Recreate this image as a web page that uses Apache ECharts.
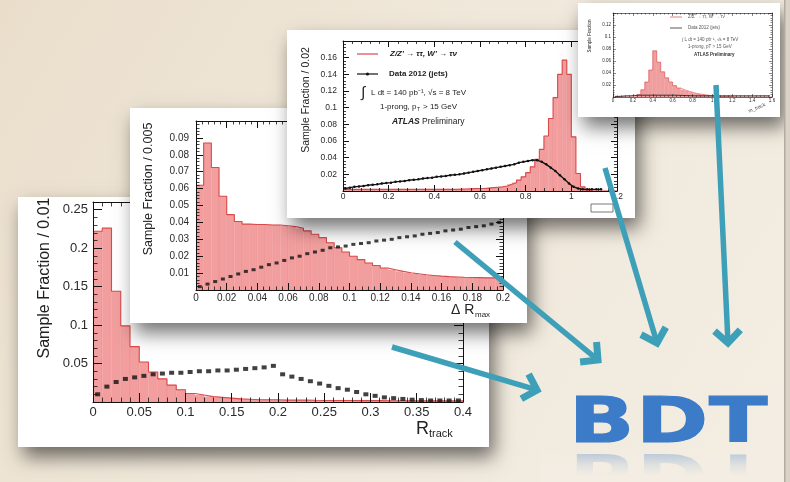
<!DOCTYPE html>
<html>
<head>
<meta charset="utf-8">
<script src="https://cdn.jsdelivr.net/npm/echarts@6/dist/echarts.min.js"></script>
<style>
  html, body { margin: 0; padding: 0; background: #f0e8da; }
  #chart { width: 790px; height: 482px; }
</style>
</head>
<body>
<div id="chart"></div>
<script>
// ---------- R_track panel (bins of 0.01 from 0 to 0.4) ----------
const rtrackLo = 0, rtrackBin = 0.01;
const rtrackSignal = [0.222, 0.226, 0.144, 0.099, 0.072, 0.052, 0.039, 0.030, 0.022, 0.016,
                      0.011, 0.009, 0.007, 0.006, 0.005, 0.004, 0.0035, 0.003, 0.003, 0.003,
                      0.0025, 0.0025, 0.0025, 0.0022, 0.002, 0.002, 0.002, 0.002, 0.0018, 0.0018,
                      0.0018, 0.0016, 0.0016, 0.0015, 0.0015, 0.0015, 0.0014, 0.0014, 0.0014, 0.0014];
const rtrackJets = [0.010, 0.020, 0.026, 0.030, 0.032, 0.034, 0.036, 0.037, 0.038, 0.038,
                    0.039, 0.040, 0.040, 0.041, 0.041, 0.042, 0.043, 0.044, 0.045, 0.047,
                    0.036, 0.033, 0.030, 0.027, 0.024, 0.021, 0.018, 0.016, 0.013, 0.010,
                    0.008, 0.006, 0.005, 0.004, 0.003, 0.0025, 0.002, 0.002, 0.002, 0.002];

// ---------- ΔR_max panel (bins of 0.005 from 0 to 0.2) ----------
const drmaxLo = 0, drmaxBin = 0.005;
const drmaxSignal = [0.062, 0.087, 0.0725, 0.0555, 0.0446, 0.0405, 0.039, 0.0388, 0.0388, 0.0385,
                     0.0385, 0.038, 0.0375, 0.0365, 0.035, 0.033, 0.031, 0.028, 0.025, 0.0225,
                     0.020, 0.018, 0.016, 0.0145, 0.013, 0.012, 0.011, 0.0102, 0.0096, 0.009,
                     0.0086, 0.0082, 0.0079, 0.0077, 0.0075, 0.0074, 0.0073, 0.0072, 0.0072, 0.0071];
const drmaxJets = [0.002, 0.0035, 0.005, 0.0065, 0.008, 0.0095, 0.011, 0.012, 0.0135, 0.015,
                   0.016, 0.0175, 0.019, 0.020, 0.0215, 0.0225, 0.0235, 0.025, 0.0255, 0.026,
                   0.027, 0.0275, 0.028, 0.029, 0.0295, 0.030, 0.031, 0.0315, 0.032, 0.033,
                   0.0335, 0.034, 0.035, 0.0355, 0.036, 0.037, 0.0375, 0.038, 0.039, 0.040];

// ---------- BDT-like score panel (bins of 0.02 from 0 to 1.2) ----------
const scoreLo = 0, scoreBin = 0.02;
const scoreSignal = [0.002, 0.002, 0.002, 0.002, 0.002, 0.002, 0.002, 0.002, 0.002, 0.002,
                     0.002, 0.002, 0.002, 0.002, 0.002, 0.002, 0.002, 0.002, 0.002, 0.002,
                     0.002, 0.002, 0.002, 0.002, 0.002, 0.0022, 0.0024, 0.0026, 0.0028, 0.003,
                     0.003, 0.0035, 0.004, 0.0045, 0.005, 0.006, 0.008, 0.010, 0.013, 0.017,
                     0.022, 0.029, 0.038, 0.050, 0.066, 0.087, 0.112, 0.140, 0.157, 0.140,
                     0.065, 0.021, 0.005, 0.001, 0, 0, 0, 0, 0, 0];
const scoreJets = [0.003, 0.004, 0.005, 0.0055, 0.006, 0.007, 0.0075, 0.008, 0.009, 0.0095,
                   0.010, 0.011, 0.0115, 0.012, 0.013, 0.0135, 0.014, 0.015, 0.0155, 0.016,
                   0.017, 0.0175, 0.018, 0.019, 0.0195, 0.020, 0.021, 0.022, 0.023, 0.024,
                   0.025, 0.026, 0.027, 0.028, 0.029, 0.030, 0.031, 0.032, 0.034, 0.035,
                   0.036, 0.037, 0.037, 0.035, 0.032, 0.028, 0.024, 0.019, 0.014, 0.009,
                   0.005, 0.003, 0.002, 0.002, 0.002, 0.002, 0.002, null, null, null];

// ---------- small mass panel (bins of 0.04 from 0 to 1.6) ----------
const massLo = 0, massBin = 0.04;
const massSignal = [0, 0, 0, 0, 0, 0, 0.004, 0.012, 0.025, 0.045,
                    0.077, 0.058, 0.042, 0.032, 0.025, 0.019, 0.015, 0.012, 0.010, 0.008,
                    0.006, 0.005, 0.004, 0.003, 0.002, 0.002, 0.001, 0.001, 0.001, 0.001,
                    0, 0, 0, 0, 0, 0, 0, 0, 0, 0];
const massJets = [0.001, 0.001, 0.0015, 0.002, 0.002, 0.0025, 0.003, 0.003, 0.003, 0.003,
                  0.003, 0.003, 0.003, 0.003, 0.003, 0.003, 0.0028, 0.0026, 0.0024, 0.0022,
                  0.002, 0.002, 0.002, 0.002, 0.002, 0.002, 0.002, 0.002, 0.002, 0.002,
                  0.002, 0.002, 0.002, 0.002, 0.002, 0.002, 0.002, 0.002, 0.002, 0.002];

// ---------- axis ranges / tick labels ----------
const axesSpec = [
  { x: [0, 0.4, 0.05],  y: [0, 0.26, 0.05], font: 13,  xMargin: 4, yMargin: 5, tick: 9 },
  { x: [0, 0.2, 0.02],  y: [0, 0.1, 0.01],  font: 10,  xMargin: 3, yMargin: 7, tick: 7 },
  { x: [0, 1.2, 0.2],   y: [0, 0.18, 0.02], font: 8.5, xMargin: 1, yMargin: 6, tick: 6 },
  { x: [0, 1.6, 0.2],   y: [0, 0.14, 0.02], font: 4.5, xMargin: 1, yMargin: 2, tick: 3 }
];
const gridBoxes = [
  { left: 93,  top: 202, width: 370, height: 200 },
  { left: 196, top: 121, width: 307, height: 169 },
  { left: 343, top: 41,  width: 274, height: 150 },
  { left: 613, top: 13,  width: 159, height: 84 }
];

const SIG_FILL = '#f29e9e';
const SIG_LINE = '#d94a4a';
const TEAL = '#3d9fb8';
const BG_LOW = '#f3ede3';
const FONT = 'Liberation Sans, Arial, sans-serif';

function binRanges(lo, w, vals) {
  return vals.map((v, i) => [lo + i * w, lo + (i + 1) * w, v]);
}
function stepOutline(lo, w, vals) {
  const pts = vals.map((v, i) => [lo + i * w, v]);
  pts.push([lo + vals.length * w, vals[vals.length - 1]]);
  return pts;
}
function binCentres(lo, w, vals) {
  return vals.map((v, i) => [lo + (i + 0.5) * w, v]);
}

function histSeries(p, lo, w, vals) {
  return [{
    type: 'custom', xAxisIndex: 2 * p, yAxisIndex: 2 * p, z: 10 * p + 3, silent: true,
    encode: { x: [0, 1], y: 2 },
    data: binRanges(lo, w, vals),
    renderItem(params, api) {
      const a = api.coord([api.value(0), api.value(2)]);
      const b = api.coord([api.value(1), 0]);
      return {
        type: 'rect',
        shape: { x: a[0], y: a[1], width: b[0] - a[0], height: b[1] - a[1] },
        style: { fill: SIG_FILL, stroke: 'rgba(215,80,80,0.14)', lineWidth: 0.6 }
      };
    }
  }, {
    type: 'line', xAxisIndex: 2 * p, yAxisIndex: 2 * p, z: 10 * p + 4, silent: true,
    step: 'end', symbol: 'none', data: stepOutline(lo, w, vals),
    lineStyle: { color: SIG_LINE, width: p === 3 ? 0.6 : 1.1 }
  }];
}

function dotSeries(p, lo, w, vals, size) {
  return {
    type: 'scatter', xAxisIndex: 2 * p, yAxisIndex: 2 * p, z: 10 * p + 6, silent: true,
    symbol: 'rect', symbolSize: size, data: binCentres(lo, w, vals),
    itemStyle: { color: '#111' }
  };
}

function lineSeries(p, lo, w, vals, width, sym) {
  return {
    type: 'line', xAxisIndex: 2 * p, yAxisIndex: 2 * p, z: 10 * p + 6, silent: true,
    symbol: sym ? 'circle' : 'none', symbolSize: sym, data: binCentres(lo, w, vals),
    lineStyle: { color: '#111', width: width }, itemStyle: { color: '#111' }
  };
}

const xAxes = [], yAxes = [], grids = [];
axesSpec.forEach((s, p) => {
  grids.push(Object.assign({ show: false, containLabel: false, outerBoundsMode: 'none' }, gridBoxes[p]));
  const base = {
    gridIndex: p, type: 'value', z: 10 * p + 5, silent: true,
    axisLine: { show: true, onZero: false, lineStyle: { color: '#111', width: p === 3 ? 0.6 : 1 } },
    splitLine: { show: false },
    axisTick: { show: true, inside: true, length: s.tick, lineStyle: { color: '#111', width: p === 3 ? 0.5 : 1 } },
    minorTick: { show: true, splitNumber: 5, length: s.tick / 2, lineStyle: { color: '#111', width: p === 3 ? 0.5 : 0.8 } }
  };
  const lab = { fontSize: s.font, color: '#2a2a2a', fontFamily: FONT };
  xAxes.push(Object.assign({}, base, {
    position: 'bottom', min: s.x[0], max: s.x[1], interval: s.x[2],
    axisLabel: Object.assign({ margin: s.xMargin }, lab)
  }));
  xAxes.push(Object.assign({}, base, {
    position: 'top', min: s.x[0], max: s.x[1], interval: s.x[2], axisLabel: { show: false }
  }));
  yAxes.push(Object.assign({}, base, {
    position: 'left', min: s.y[0], max: s.y[1], interval: s.y[2],
    axisLabel: Object.assign({ margin: s.yMargin, showMinLabel: false, showMaxLabel: false }, lab)
  }));
  yAxes.push(Object.assign({}, base, {
    position: 'right', min: s.y[0], max: s.y[1], interval: s.y[2], axisLabel: { show: false }
  }));
});

const series = [].concat(
  histSeries(0, rtrackLo, rtrackBin, rtrackSignal),
  [dotSeries(0, rtrackLo, rtrackBin, rtrackJets, [5, 4])],
  histSeries(1, drmaxLo, drmaxBin, drmaxSignal),
  [dotSeries(1, drmaxLo, drmaxBin, drmaxJets, [4, 3])],
  histSeries(2, scoreLo, scoreBin, scoreSignal),
  [lineSeries(2, scoreLo, scoreBin, scoreJets, 1.4, 2.5)],
  histSeries(3, massLo, massBin, massSignal),
  [lineSeries(3, massLo, massBin, massJets, 0.8, 0)]
);

// ---------- decorations: paper panels, titles, arrows, BDT ----------
function panel(x, y, w, h, z) {
  return {
    type: 'rect', z: z, silent: true,
    shape: { x: x, y: y, width: w, height: h },
    style: { fill: '#ffffff', shadowBlur: 18, shadowOffsetX: 5, shadowOffsetY: 10, shadowColor: 'rgba(0,0,0,0.55)' }
  };
}
function txt(text, x, y, size, z, extra) {
  return {
    type: 'text', x: x, y: y, z: z, silent: true,
    style: Object.assign({ text: text, fontSize: size, fontFamily: FONT, fill: '#222', align: 'left', verticalAlign: 'middle' }, extra || {})
  };
}
function vtitle(text, x, y, size, z) {
  return {
    type: 'text', x: x, y: y, z: z, rotation: Math.PI / 2, silent: true,
    style: { text: text, fontSize: size, fontFamily: FONT, fill: '#222', align: 'center', verticalAlign: 'middle' }
  };
}
function arrow(x1, y1, x2, y2) {
  const ang = Math.atan2(y2 - y1, x2 - x1);
  const L = 18, spread = 0.8;
  return [
    { type: 'line', z: 90, silent: true, shape: { x1: x1, y1: y1, x2: x2 - 3 * Math.cos(ang), y2: y2 - 3 * Math.sin(ang) },
      style: { stroke: TEAL, lineWidth: 5.5 } },
    { type: 'polyline', z: 90, silent: true,
      shape: { points: [[x2 - L * Math.cos(ang - spread), y2 - L * Math.sin(ang - spread)], [x2, y2],
                        [x2 - L * Math.cos(ang + spread), y2 - L * Math.sin(ang + spread)]] },
      style: { stroke: TEAL, lineWidth: 7, fill: null, lineJoin: 'miter' } }
  ];
}
const BDT_FS = 63, BDT_BASE = 447;
function letter(ch, x, sx) {
  const mid = -0.346 * BDT_FS;
  const common = { fontSize: BDT_FS, fontWeight: 'bold', fontFamily: 'DejaVu Sans', align: 'left', verticalAlign: 'middle', x: 0, y: mid, text: ch };
  return [
    { type: 'text', x: x, y: BDT_BASE, z: 92, scaleX: sx, silent: true,
      style: Object.assign({ fill: '#3b7bc8', stroke: '#3b7bc8', lineWidth: 1.2 }, common) },
    { type: 'text', x: x, y: BDT_BASE + 2, z: 91, scaleX: sx, scaleY: -1, silent: true,
      style: Object.assign({ fill: 'rgba(59,123,200,0.42)' }, common) }
  ];
}

const graphics = [
  { type: 'rect', z: 0, silent: true, shape: { x: 0, y: 0, width: 790, height: 482 },
    style: { fill: { type: 'linear', x: 0, y: 0, x2: 1, y2: 1, colorStops: [
      { offset: 0, color: '#eadecb' }, { offset: 0.45, color: '#f0e8da' }, { offset: 1, color: BG_LOW }] } } },
  { type: 'rect', z: 95, silent: true, shape: { x: 784, y: 0, width: 6, height: 482 }, style: { fill: '#d9d2c6' } },
  { type: 'rect', z: 95, silent: true, shape: { x: 784, y: 0, width: 1.5, height: 482 }, style: { fill: '#b3ac9f' } },

  // R_track panel
  panel(18, 197, 471, 250, 1),
  vtitle('Sample Fraction / 0.01', 45, 278, 16, 8),
  txt('R', 416, 429, 18, 8),
  txt('track', 429, 434, 11, 8),

  // ΔR_max panel
  panel(130, 108, 397, 215, 11),
  vtitle('Sample Fraction / 0.005', 149, 189, 12.5, 18),
  txt('Δ R', 451, 310, 14, 18),
  txt('max', 475, 315, 8, 18),

  // score panel
  panel(287, 30, 348, 188, 21),
  vtitle('Sample Fraction / 0.02', 306, 100, 10.5, 28),
  { type: 'line', z: 28, silent: true, shape: { x1: 357, y1: 54, x2: 378, y2: 54 }, style: { stroke: SIG_LINE, lineWidth: 1.2 } },
  txt("Z/Z' → ττ, W' → τν", 390, 54, 8, 28, { fontWeight: 'bold', fontStyle: 'italic' }),
  { type: 'line', z: 28, silent: true, shape: { x1: 357, y1: 74, x2: 378, y2: 74 }, style: { stroke: '#111', lineWidth: 1.2 } },
  { type: 'circle', z: 28, silent: true, shape: { cx: 367.5, cy: 74, r: 1.6 }, style: { fill: '#111' } },
  txt('Data 2012 (jets)', 389, 74, 8, 28, { fontWeight: 'bold' }),
  txt('∫', 361, 93, 15, 28),
  txt('L dt = 140 pb⁻¹, √s = 8 TeV', 371, 93, 8, 28),
  txt('1-prong, p', 380, 107, 8, 28),
  txt('T', 417, 109.5, 5, 28),
  txt('> 15 GeV', 423, 107, 8, 28),
  txt('ATLAS', 392, 122, 8.5, 28, { fontWeight: 'bold', fontStyle: 'italic' }),
  txt('Preliminary', 422, 122, 8.5, 28),
  { type: 'rect', z: 28, silent: true, shape: { x: 591, y: 204, width: 22, height: 8 }, style: { fill: '#fff', stroke: '#555', lineWidth: 0.8 } },

  // mass panel
  panel(578, 3, 202, 114, 31),
  vtitle('Sample Fraction', 590, 36, 4.5, 38),
  { type: 'line', z: 38, silent: true, shape: { x1: 670, y1: 17, x2: 682, y2: 17 }, style: { stroke: SIG_LINE, lineWidth: 0.7 } },
  txt("Z/Z' → ττ, W' → τν", 688, 17, 4.5, 38, { fill: '#555' }),
  { type: 'line', z: 38, silent: true, shape: { x1: 670, y1: 28, x2: 682, y2: 28 }, style: { stroke: '#111', lineWidth: 0.7 } },
  txt('Data 2012 (jets)', 688, 28, 4.5, 38, { fill: '#555' }),
  txt('∫ L dt = 140 pb⁻¹, √s = 8 TeV', 682, 40, 4.5, 38, { fill: '#555' }),
  txt('1-prong, pT > 15 GeV', 688, 47, 4.5, 38, { fill: '#555' }),
  txt('ATLAS Preliminary', 694, 55, 4.5, 38, { fill: '#333', fontWeight: 'bold' }),
  { type: 'text', x: 757, y: 108, z: 38, rotation: 0.4, silent: true,
    style: { text: 'm_track', fontSize: 5, fontFamily: FONT, fill: '#444', align: 'center', verticalAlign: 'middle' } },

  // fade for the mirrored lettering
  { type: 'rect', z: 91.5, silent: true, shape: { x: 540, y: BDT_BASE + 1, width: 243, height: 482 - BDT_BASE - 1 },
    style: { fill: { type: 'linear', x: 0, y: 0, x2: 0, y2: 1, colorStops: [
      { offset: 0, color: 'rgba(243,237,227,0.05)' }, { offset: 0.5, color: 'rgba(243,237,227,0.75)' },
      { offset: 0.8, color: 'rgba(243,237,227,1)' }, { offset: 1, color: 'rgba(243,237,227,1)' }] } } }
].concat(
  arrow(392, 347, 537, 390),
  arrow(455, 242, 598, 360),
  arrow(605, 168, 657, 343),
  arrow(716, 85, 728, 343),
  letter('B', 569, 1.36),
  letter('D', 636, 1.38),
  letter('T', 709, 1.36)
);

const chart = echarts.init(document.getElementById('chart'), null, { renderer: 'canvas' });
chart.setOption({
  animation: false,
  backgroundColor: '#f0e8da',
  textStyle: { fontFamily: FONT },
  grid: grids,
  xAxis: xAxes,
  yAxis: yAxes,
  series: series,
  graphic: { elements: graphics }
});
</script>
</body>
</html>
